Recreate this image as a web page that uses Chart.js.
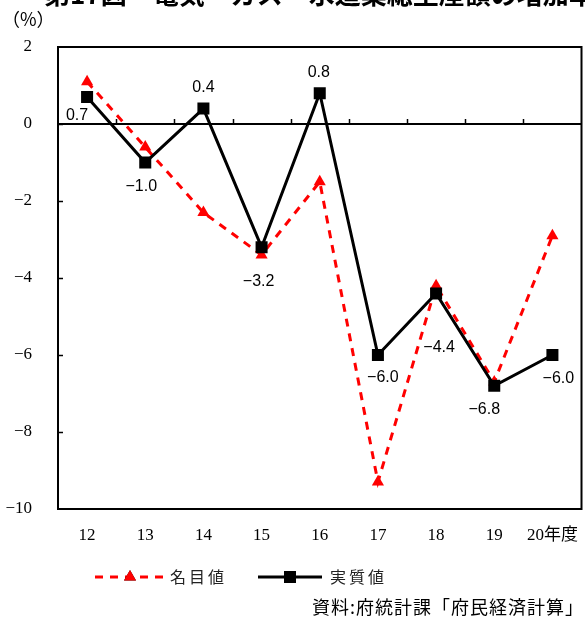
<!DOCTYPE html>
<html lang="ja">
<head>
<meta charset="utf-8">
<script src="https://cdn.jsdelivr.net/npm/chart.js@4/dist/chart.umd.min.js"></script>
<style>
  html, body { margin: 0; padding: 0; background: #fff; overflow: hidden; }
  #wrap { position: relative; width: 585px; height: 619px; overflow: hidden; }
  canvas { display: block; }
</style>
</head>
<body>
<!-- キャンバスは右側の点の余白分だけ広く取り、枠で切り取る -->
<div id="wrap"><canvas id="c" width="590" height="619"></canvas></div>
<script>
// 年度（平成）
const categories = ['12', '13', '14', '15', '16', '17', '18', '19', '20年度'];
// 増加率（%）
const nominalValues = [1.1, -0.6, -2.3, -3.4, -1.5, -9.3, -4.2, -6.7, -2.9];
const realValues = [0.7, -1.0, 0.4, -3.2, 0.8, -6.0, -4.4, -6.8, -6.0];
const seriesNames = ['名目値', '実質値'];
const titleText = '第17図　電気・ガス・水道業総生産額の増加率';
const unitText = '（%）';
const sourceText = '資料:府統計課「府民経済計算」';
const yMin = -10, yMax = 2, yStep = 2;

// 実質値ラベルの表示位置のずらし量（px）
const realLabelOffsets = [[-10, 19], [-4, 24], [0, -21], [-3, 34], [-1, -21], [5, 23], [3, 54], [-10, 24], [6, 24]];

const minus = s => String(s).replace('-', '\u2212');

// 文字間隔をあけて描く
function spacedText(ctx, text, x, y, gap) {
  let cx = x;
  for (const ch of text) {
    ctx.fillText(ch, cx, y);
    cx += ctx.measureText(ch).width + gap;
  }
  return cx - gap;
}
function spacedWidth(ctx, text, gap) {
  let w = 0;
  for (const ch of text) w += ctx.measureText(ch).width + gap;
  return w - gap;
}

const frame = {
  id: 'frame',
  afterDatasetsDraw(chart) {
    const { ctx, chartArea: a, scales } = chart;
    const x = scales.x, y = scales.y;
    ctx.save();
    ctx.strokeStyle = '#000';
    ctx.lineWidth = 2;
    ctx.strokeRect(a.left, a.top, a.right - a.left, a.bottom - a.top);
    // ゼロ線
    const y0 = y.getPixelForValue(0);
    ctx.beginPath();
    ctx.moveTo(a.left, y0);
    ctx.lineTo(a.right, y0);
    ctx.stroke();
    // ゼロ線上の区切り目盛
    ctx.lineWidth = 1.5;
    const step = x.getPixelForValue(1) - x.getPixelForValue(0);
    for (let i = 0; i < categories.length - 1; i++) {
      const px = Math.round(x.getPixelForValue(i) + step / 2) + 0.5;
      ctx.beginPath();
      ctx.moveTo(px, y0);
      ctx.lineTo(px, y0 - 5);
      ctx.stroke();
    }
    // 縦軸の内向き目盛
    for (let v = yMin + yStep; v < yMax; v += yStep) {
      const py = Math.round(y.getPixelForValue(v)) + 0.5;
      ctx.beginPath();
      ctx.moveTo(a.left, py);
      ctx.lineTo(a.left + 5, py);
      ctx.stroke();
    }
    ctx.restore();
  }
};

const valueLabels = {
  id: 'valueLabels',
  afterDatasetsDraw(chart) {
    const { ctx } = chart;
    const meta = chart.getDatasetMeta(1);
    ctx.save();
    ctx.font = '16px "Liberation Sans", Arial, sans-serif';
    ctx.fillStyle = '#000';
    ctx.textAlign = 'center';
    ctx.textBaseline = 'middle';
    meta.data.forEach((pt, i) => {
      const [dx, dy] = realLabelOffsets[i];
      ctx.fillText(minus(realValues[i].toFixed(1)), pt.x + dx, pt.y + dy);
    });
    ctx.restore();
  }
};

const decorations = {
  id: 'decorations',
  afterDraw(chart) {
    const { ctx } = chart;
    ctx.save();
    // 表題
    ctx.fillStyle = '#000';
    ctx.font = 'bold 26px "Noto Sans CJK JP", sans-serif';
    ctx.textBaseline = 'alphabetic';
    ctx.textAlign = 'left';
    ctx.fillText(titleText, 44, 4);
    // 単位
    ctx.font = '18px "Noto Sans CJK JP", serif';
    ctx.textBaseline = 'middle';
    ctx.fillText(unitText, 2, 19);
    // 凡例
    const legendY = 577;
    const items = [
      { ds: chart.data.datasets[0], x0: 95, x1: 163, mx: 130, tx: 170 },
      { ds: chart.data.datasets[1], x0: 258, x1: 322, mx: 290, tx: 330 }
    ];
    items.forEach(it => {
      const ds = it.ds;
      ctx.strokeStyle = ds.borderColor;
      ctx.lineWidth = ds.borderWidth;
      ctx.setLineDash(ds.borderDash || []);
      ctx.beginPath();
      ctx.moveTo(it.x0, legendY);
      ctx.lineTo(it.x1, legendY);
      ctx.stroke();
      ctx.setLineDash([]);
      Chart.helpers.drawPoint(ctx, {
        pointStyle: ds.pointStyle, radius: ds.pointRadius, rotation: 0, borderWidth: 0
      }, it.mx, legendY);
      ctx.fillStyle = ds.pointBackgroundColor;
      ctx.fill();
      ctx.fillStyle = '#222';
      ctx.font = '16px "Noto Sans CJK JP", sans-serif';
      ctx.textBaseline = 'middle';
      spacedText(ctx, ds.label, it.tx, legendY, 3);
    });
    // 資料
    ctx.fillStyle = '#000';
    ctx.font = '18px "Noto Sans CJK JP", serif';
    ctx.textAlign = 'left';
    ctx.textBaseline = 'middle';
    const w = spacedWidth(ctx, sourceText, 1);
    spacedText(ctx, sourceText, 583 - w, 607, 1);
    ctx.restore();
  }
};

new Chart(document.getElementById('c'), {
  type: 'line',
  data: {
    labels: categories,
    datasets: [
      {
        label: seriesNames[0],
        data: nominalValues,
        borderColor: '#ff0000',
        backgroundColor: '#ff0000',
        borderWidth: 3,
        borderDash: [8, 7],
        pointStyle: 'triangle',
        pointRadius: 7,
        pointBackgroundColor: '#ff0000',
        pointBorderWidth: 0,
        tension: 0,
        order: 1
      },
      {
        label: seriesNames[1],
        data: realValues,
        borderColor: '#000000',
        backgroundColor: '#000000',
        borderWidth: 3,
        pointStyle: 'rect',
        pointRadius: 8.5,
        pointBackgroundColor: '#000000',
        pointBorderWidth: 0,
        tension: 0,
        order: 0
      }
    ]
  },
  options: {
    responsive: false,
    animation: false,
    devicePixelRatio: 1,
    layout: { padding: { top: 47, left: 0, right: 3, bottom: 70 } },
    plugins: {
      legend: { display: false },
      title: { display: false },
      tooltip: { enabled: false }
    },
    scales: {
      x: {
        type: 'category',
        offset: true,
        grid: { display: false, drawTicks: false },
        border: { display: false },
        ticks: {
          color: '#000',
          padding: 0,
          maxRotation: 0,
          autoSkip: false,
          font: { family: '"Liberation Serif", "Noto Sans CJK JP", serif', size: 17, lineHeight: '54px' }
        },
        afterFit(s) { s.height = 40; }
      },
      y: {
        min: yMin,
        max: yMax,
        grid: { display: false, drawTicks: false },
        border: { display: false },
        ticks: {
          stepSize: yStep,
          color: '#000',
          padding: 26,
          font: { family: '"Liberation Serif", serif', size: 17 },
          callback: v => minus(v)
        },
        afterFit(s) { s.width = 58; }
      }
    }
  },
  plugins: [frame, valueLabels, decorations]
});
</script>
</body>
</html>
